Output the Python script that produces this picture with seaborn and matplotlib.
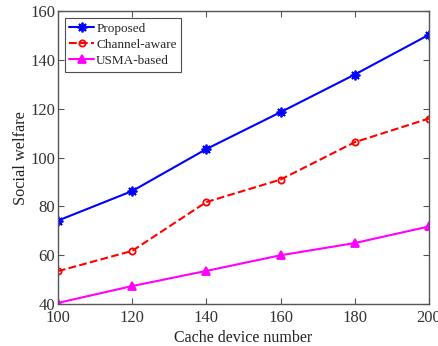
import matplotlib
matplotlib.use("Agg")
import matplotlib.pyplot as plt
import seaborn as sns
import pandas as pd

device_numbers = [100, 120, 140, 160, 180, 200]
proposed = [74.2, 86.3, 103.5, 118.6, 134.0, 150.3]
channel_aware = [53.5, 61.8, 81.8, 91.0, 106.3, 116.0]
usma_based = [40.5, 47.4, 53.6, 60.0, 65.0, 71.8]

series_names = ["Proposed", "Channel-aware", "USMA-based"]
series_values = [proposed, channel_aware, usma_based]

sns.set_theme(style="white")
plt.rcParams["font.family"] = ["Liberation Serif", "DejaVu Serif"]

df = pd.DataFrame(
    [(x, y, name) for name, vals in zip(series_names, series_values)
     for x, y in zip(device_numbers, vals)],
    columns=["x", "y", "scheme"],
)

fig = plt.figure(figsize=(4.39, 3.46), dpi=100)
ax = fig.add_axes([0.132, 0.121, 0.845, 0.847])

styles = {
    "Proposed": dict(color="#0000ff", marker=(8, 2, 0), linestyle="-", mfc="#0000ff", ms=7),
    "Channel-aware": dict(color="#ff0000", marker="o", linestyle="--", mfc="none", ms=4.5),
    "USMA-based": dict(color="#ff00ff", marker="^", linestyle="-", mfc="#ff00ff", ms=5.5),
}

for name in series_names:
    sub = df[df["scheme"] == name]
    st = styles[name]
    sns.lineplot(data=sub, x="x", y="y", ax=ax, color=st["color"],
                 linestyle=st["linestyle"], marker=st["marker"],
                 markersize=st["ms"], markerfacecolor=st["mfc"],
                 markeredgecolor=st["color"], markeredgewidth=1.3,
                 linewidth=1.5, label=name, legend=False)

ax.set_xlim(100, 200)
ax.set_ylim(40, 160)
ax.set_xticks(device_numbers)
ax.set_yticks([40, 60, 80, 100, 120, 140, 160])
ax.set_xlabel("Cache device number", fontsize=11.5, color="#222222", labelpad=3)
ax.set_ylabel("Social welfare", fontsize=11.7, color="#222222", labelpad=1)
ax.tick_params(direction="in", length=4, width=0.8, labelsize=12,
               colors="#555555", labelcolor="#333333", top=True, right=True,
               bottom=True, left=True)
ax.tick_params(axis="x", pad=4)
ax.tick_params(axis="y", pad=2)
for s in ax.spines.values():
    s.set_color("#555555")
    s.set_linewidth(1.0)

handles, labels = ax.get_legend_handles_labels()
leg = ax.legend(handles, labels, loc="upper left", fontsize=9.5,
                frameon=True, fancybox=False, edgecolor="#222222",
                borderpad=0.35, labelspacing=0.3, handlelength=1.9,
                handletextpad=0.15, borderaxespad=0.5)
leg.get_frame().set_linewidth(0.8)

fig.savefig("out.png", dpi=100)
